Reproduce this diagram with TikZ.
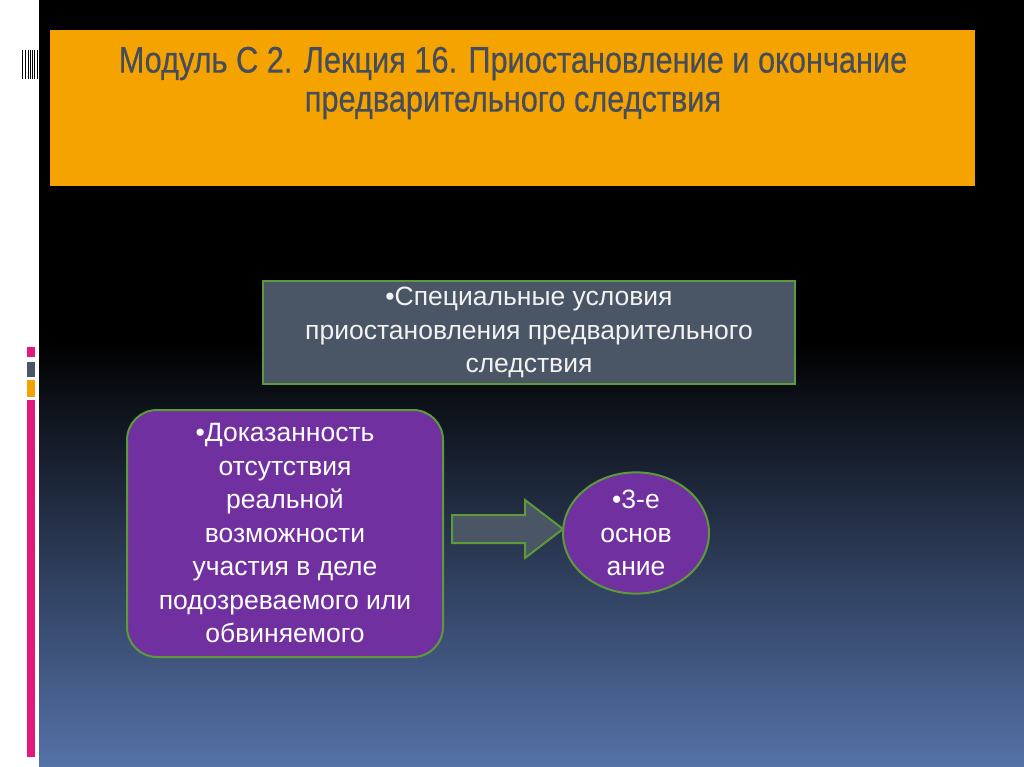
\documentclass[tikz,border=0pt]{standalone}
\usepackage{fontspec}
\setmainfont{Liberation Sans}
\newfontfamily\titlefont[FakeStretch=0.83,FakeBold=0.4]{Liberation Sans}
\usetikzlibrary{shapes.geometric}
\definecolor{orng}{HTML}{F5A300}
\definecolor{ttl}{HTML}{454C5C}
\definecolor{slate}{HTML}{4A5566}
\definecolor{grn}{HTML}{5C9A3A}
\definecolor{purp}{HTML}{7030A0}
\definecolor{pink}{HTML}{E2187A}
\definecolor{botblue}{HTML}{5572A8}
\tikzset{txt/.style={text=white,font=\fontsize{26.5}{33.5}\selectfont,align=center}}
\begin{document}
\begin{tikzpicture}[x=1pt,y=-1pt]
\useasboundingbox (0,0) rectangle (1024,767);
\fill[white] (0,0) rectangle (1024,767);
\fill[black] (39,0) rectangle (1024,340);
\shade[top color=black,bottom color=botblue] (39,340) rectangle (1024,767);
% left decor
\foreach \x in {22,25,27.5,30,32,34,36.5}{\fill[black] (\x,50) rectangle (\x+1.3,79);}
\fill[pink] (27,347) rectangle (35,357);
\fill[slate] (27,362) rectangle (35,377);
\fill[orng] (27,380) rectangle (35,397);
\fill[pink] (27,400) rectangle (35,757);
% title
\fill[orng] (50,30) rectangle (975,186);
\node[text=ttl,font=\titlefont\fontsize{37}{39}\selectfont,align=center] (title) at (513,83) {Модуль С 2. Лекция 16. Приостановление и окончание\\предварительного следствия};
% boxes
\node[draw=grn,line width=2pt,fill=slate,minimum width=532pt,minimum height=103pt,txt,text=white!90!gray] (top) at (529,332.5) {•Специальные условия\\приостановления предварительного\\следствия};
\node[draw=grn,line width=2pt,fill=purp,rounded corners=30pt,minimum width=316pt,minimum height=247pt,txt] (left) at (285,533.5) {•Доказанность\\отсутствия\\реальной\\возможности\\участия в деле\\подозреваемого или\\обвиняемого};
\node[draw=grn,line width=2pt,fill=purp,ellipse,minimum width=146pt,minimum height=100pt,inner sep=0pt,txt] (ell) at (636,533) {•3-е\\основ\\ание};
\coordinate (at) at (563,529);
\draw[grn,line width=2pt,fill=slate] (452,515) -- (525,515) -- (525,500) -- (at) -- (525,558) -- (525,543) -- (452,543) -- cycle;
\end{tikzpicture}
\end{document}
